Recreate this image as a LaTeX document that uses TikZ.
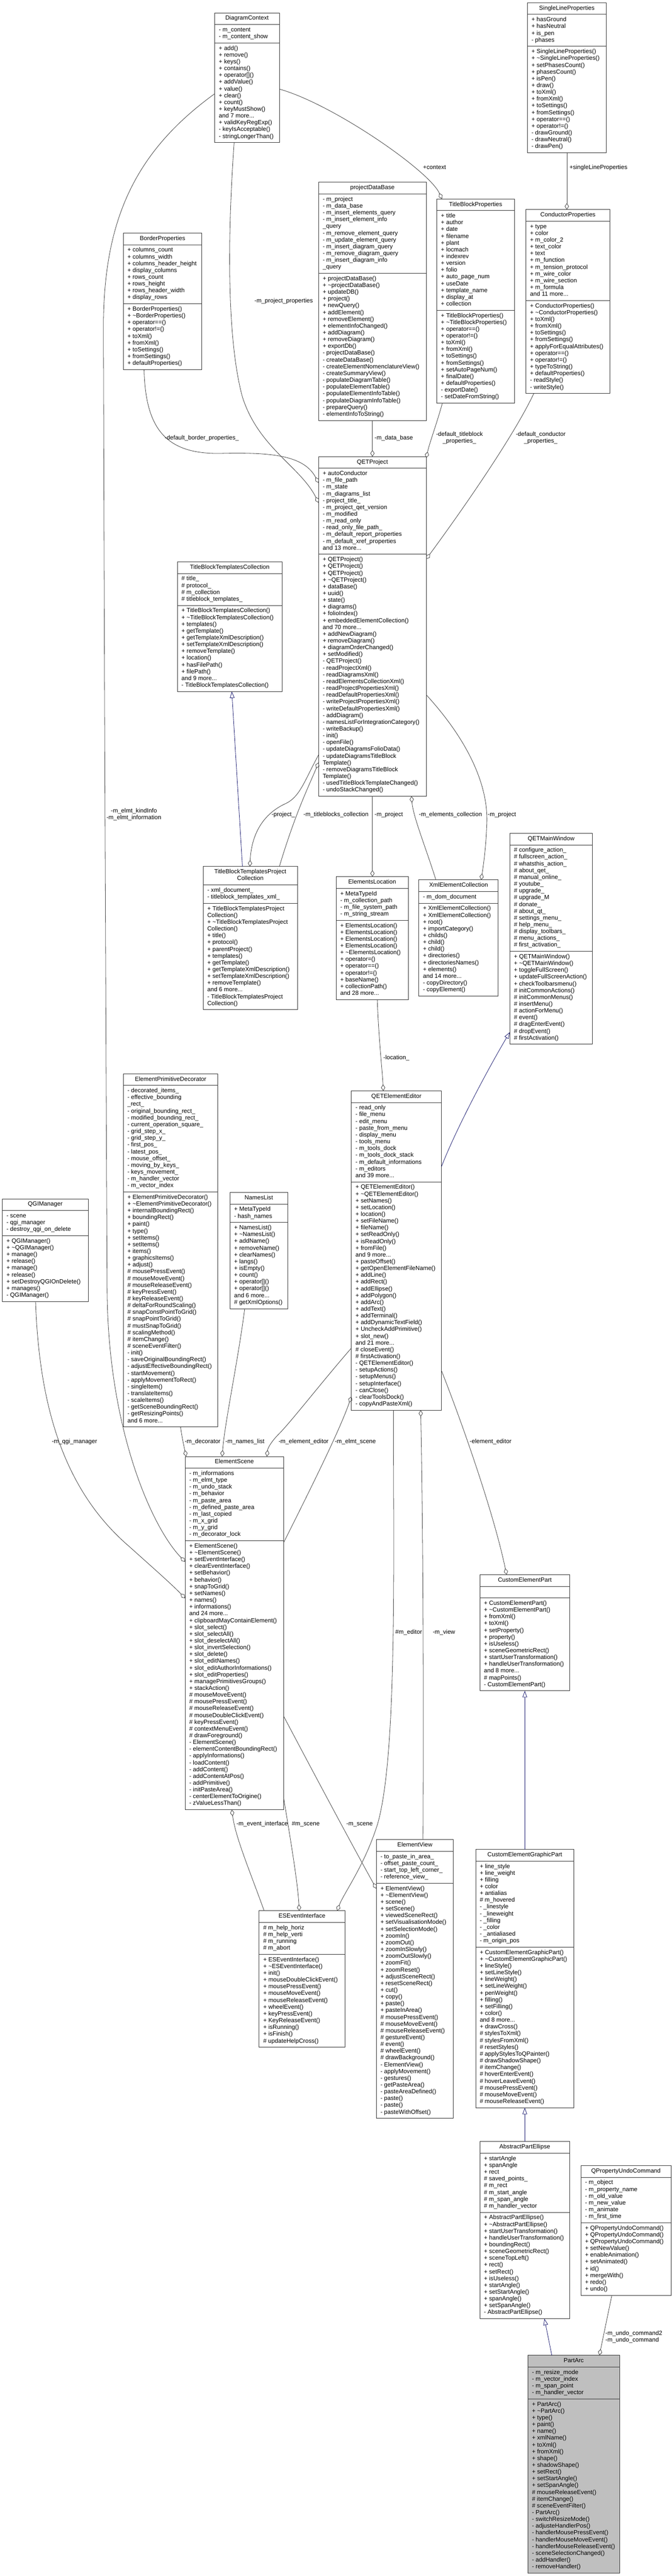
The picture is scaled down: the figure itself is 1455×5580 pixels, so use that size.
\documentclass[tikz,border=0pt]{standalone}
\usepackage{fontspec}
\newfontfamily\lsans{Liberation Sans}
\usetikzlibrary{arrows.meta,calc}
\definecolor{mblue}{HTML}{191970}
\definecolor{egray}{HTML}{404040}
\definecolor{pfill}{HTML}{BFBFBF}
\newcommand\cfont{\lsans\fontsize{13}{14.67}\selectfont\lineskiplimit=-100pt\relax}
\newcommand\st{\rule{0pt}{11.8pt}}
\newcommand\classbox[8]{%
  \def\cbid{#1}\def\cbx{#2}\def\cby{#3}\def\cbw{#4}%
  \def\cbnt{#5}\def\cbna{#6}\def\cbnm{#7}\def\cbfill{#8}%
  \classboxB}
\newcommand\classboxB[3]{%
  \pgfmathsetmacro\cbh{(\cbnt+\cbna+\cbnm)*14.67+31.5}%
  \pgfmathsetmacro\cbya{\cby+\cbnt*14.67+10.5}%
  \pgfmathsetmacro\cbym{\cbya+\cbna*14.67+10.5}%
  \pgfmathsetmacro\cbxc{\cbx+\cbw/2}%
  \pgfmathsetmacro\cbxt{\cbx+9}%
  \pgfmathsetmacro\cbyt{\cby+3.7}%
  \pgfmathsetmacro\cbyat{\cbya+3.7}%
  \pgfmathsetmacro\cbymt{\cbym+3.7}%
  \node[cbox, fill=\cbfill, minimum width=\cbw pt, minimum height=\cbh pt] (\cbid) at (\cbx,\cby) {};
  \draw[cline] (\cbx,\cbya) -- ++(\cbw,0);
  \draw[cline] (\cbx,\cbym) -- ++(\cbw,0);
  \node[ctitle] (\cbid-t) at (\cbxc,\cbyt) {\st #1};
  \node[csect] (\cbid-a) at (\cbxt,\cbyat) {\st #2};
  \node[csect] (\cbid-m) at (\cbxt,\cbymt) {\st #3};
}
\begin{document}
\begin{tikzpicture}[x=1pt,y=-1pt,
  cbox/.style={draw=black!80, line width=1pt, anchor=north west, inner sep=0pt, outer sep=0pt},
  cline/.style={draw=black!80, line width=1pt},
  csect/.style={anchor=north west, inner sep=0pt, outer sep=0pt, align=left, font=\cfont},
  ctitle/.style={anchor=north, inner sep=0pt, outer sep=0pt, align=center, font=\cfont},
  agg/.style={draw=egray, line width=0.9pt, -{Diamond[open, length=14pt, width=9pt]}},
  inh/.style={draw=mblue, line width=0.9pt, -{Triangle[open, length=14pt, width=10pt]}},
  elab/.style={font=\cfont, inner sep=0pt, text height=9.5pt, text depth=2.7pt},
  elabm/.style={font=\cfont, inner sep=0pt}]
\useasboundingbox (0,0) rectangle (1455,5580);
\fill[white] (0,0) rectangle (1455,5580);

% ---------------- classes ----------------
\classbox{DC}{465}{28}{140}{1}{2}{14}{white}
 {DiagramContext}
 {- m\_content\\- m\_content\_show}
 {+ add()\\+ remove()\\+ keys()\\+ contains()\\+ operator[]()\\+ addValue()\\+ value()\\+ clear()\\+ count()\\+ keyMustShow()\\and 7 more...\\+ validKeyRegExp()\\- keyIsAcceptable()\\- stringLongerThan()}

\classbox{SLP}{1142}{6}{171}{1}{4}{15}{white}
 {SingleLineProperties}
 {+ hasGround\\+ hasNeutral\\+ is\_pen\\- phases}
 {+ SingleLineProperties()\\+ \textasciitilde SingleLineProperties()\\+ setPhasesCount()\\+ phasesCount()\\+ isPen()\\+ draw()\\+ toXml()\\+ fromXml()\\+ toSettings()\\+ fromSettings()\\+ operator==()\\+ operator!=()\\- drawGround()\\- drawNeutral()\\- drawPen()}

\classbox{PDB}{690}{395}{233}{1}{11}{21}{white}
 {projectDataBase}
 {- m\_project\\- m\_data\_base\\- m\_insert\_elements\_query\\- m\_insert\_element\_info\\\_query\\- m\_remove\_element\_query\\- m\_update\_element\_query\\- m\_insert\_diagram\_query\\- m\_remove\_diagram\_query\\- m\_insert\_diagram\_info\\\_query}
 {+ projectDataBase()\\+ \textasciitilde projectDataBase()\\+ updateDB()\\+ project()\\+ newQuery()\\+ addElement()\\+ removeElement()\\+ elementInfoChanged()\\+ addDiagram()\\+ removeDiagram()\\+ exportDb()\\- projectDataBase()\\- createDataBase()\\- createElementNomenclatureView()\\- createSummaryView()\\- populateDiagramTable()\\- populateElementTable()\\- populateElementInfoTable()\\- populateDiagramInfoTable()\\- prepareQuery()\\- elementInfoToString()}

\classbox{TBP}{946}{431}{168}{1}{14}{13}{white}
 {TitleBlockProperties}
 {+ title\\+ author\\+ date\\+ filename\\+ plant\\+ locmach\\+ indexrev\\+ version\\+ folio\\+ auto\_page\_num\\+ useDate\\+ template\_name\\+ display\_at\\+ collection}
 {+ TitleBlockProperties()\\+ \textasciitilde TitleBlockProperties()\\+ operator==()\\+ operator!=()\\+ toXml()\\+ fromXml()\\+ toSettings()\\+ fromSettings()\\+ setAutoPageNum()\\+ finalDate()\\+ defaultProperties()\\- exportDate()\\- setDateFromString()}

\classbox{CP}{1139}{454}{182}{1}{11}{13}{white}
 {ConductorProperties}
 {+ type\\+ color\\+ m\_color\_2\\+ text\_color\\+ text\\+ m\_function\\+ m\_tension\_protocol\\+ m\_wire\_color\\+ m\_wire\_section\\+ m\_formula\\and 11 more...}
 {+ ConductorProperties()\\+ \textasciitilde ConductorProperties()\\+ toXml()\\+ fromXml()\\+ toSettings()\\+ fromSettings()\\+ applyForEqualAttributes()\\+ operator==()\\+ operator!=()\\+ typeToString()\\+ defaultProperties()\\- readStyle()\\- writeStyle()}

\classbox{BP}{267}{505}{170}{1}{8}{9}{white}
 {BorderProperties}
 {+ columns\_count\\+ columns\_width\\+ columns\_header\_height\\+ display\_columns\\+ rows\_count\\+ rows\_height\\+ rows\_header\_width\\+ display\_rows}
 {+ BorderProperties()\\+ \textasciitilde BorderProperties()\\+ operator==()\\+ operator!=()\\+ toXml()\\+ fromXml()\\+ toSettings()\\+ fromSettings()\\+ defaultProperties()}

\classbox{QP}{690}{989}{233}{1}{12}{35}{white}
 {QETProject}
 {+ autoConductor\\- m\_file\_path\\- m\_state\\- m\_diagrams\_list\\- project\_title\_\\- m\_project\_qet\_version\\- m\_modified\\- m\_read\_only\\- read\_only\_file\_path\_\\- m\_default\_report\_properties\\- m\_default\_xref\_properties\\and 13 more...}
 {+ QETProject()\\+ QETProject()\\+ QETProject()\\+ \textasciitilde QETProject()\\+ dataBase()\\+ uuid()\\+ state()\\+ diagrams()\\+ folioIndex()\\+ embeddedElementCollection()\\and 70 more...\\+ addNewDiagram()\\+ removeDiagram()\\+ diagramOrderChanged()\\+ setModified()\\- QETProject()\\- readProjectXml()\\- readDiagramsXml()\\- readElementsCollectionXml()\\- readProjectPropertiesXml()\\- readDefaultPropertiesXml()\\- writeProjectPropertiesXml()\\- writeDefaultPropertiesXml()\\- addDiagram()\\- namesListForIntegrationCategory()\\- writeBackup()\\- init()\\- openFile()\\- updateDiagramsFolioData()\\- updateDiagramsTitleBlock\\Template()\\- removeDiagramsTitleBlock\\Template()\\- usedTitleBlockTemplateChanged()\\- undoStackChanged()}

\classbox{TBTC}{384}{1217}{227}{1}{4}{12}{white}
 {TitleBlockTemplatesCollection}
 {\# title\_\\\# protocol\_\\\# m\_collection\\\# titleblock\_templates\_}
 {+ TitleBlockTemplatesCollection()\\+ \textasciitilde TitleBlockTemplatesCollection()\\+ templates()\\+ getTemplate()\\+ getTemplateXmlDescription()\\+ setTemplateXmlDescription()\\+ removeTemplate()\\+ location()\\+ hasFilePath()\\+ filePath()\\and 9 more...\\- TitleBlockTemplatesCollection()}

\classbox{TBTPC}{440}{1877}{204}{2}{2}{15}{white}
 {TitleBlockTemplatesProject\\Collection}
 {- xml\_document\_\\- titleblock\_templates\_xml\_}
 {+ TitleBlockTemplatesProject\\Collection()\\+ \textasciitilde TitleBlockTemplatesProject\\Collection()\\+ title()\\+ protocol()\\+ parentProject()\\+ templates()\\+ getTemplate()\\+ getTemplateXmlDescription()\\+ setTemplateXmlDescription()\\+ removeTemplate()\\and 6 more...\\- TitleBlockTemplatesProject\\Collection()}

\classbox{EL}{728}{1899}{156}{1}{4}{11}{white}
 {ElementsLocation}
 {+ MetaTypeId\\- m\_collection\_path\\- m\_file\_system\_path\\- m\_string\_stream}
 {+ ElementsLocation()\\+ ElementsLocation()\\+ ElementsLocation()\\+ ElementsLocation()\\+ \textasciitilde ElementsLocation()\\+ operator=()\\+ operator==()\\+ operator!=()\\+ baseName()\\+ collectionPath()\\and 28 more...}

\classbox{XEC}{907}{1906}{172}{1}{1}{13}{white}
 {XmlElementCollection}
 {- m\_dom\_document}
 {+ XmlElementCollection()\\+ XmlElementCollection()\\+ root()\\+ importCategory()\\+ childs()\\+ child()\\+ child()\\+ directories()\\+ directoriesNames()\\+ elements()\\and 14 more...\\- copyDirectory()\\- copyElement()}

\classbox{QMW}{1104}{1805}{179}{1}{15}{13}{white}
 {QETMainWindow}
 {\# configure\_action\_\\\# fullscreen\_action\_\\\# whatsthis\_action\_\\\# about\_qet\_\\\# manual\_online\_\\\# youtube\_\\\# upgrade\_\\\# upgrade\_M\\\# donate\_\\\# about\_qt\_\\\# settings\_menu\_\\\# help\_menu\_\\\# display\_toolbars\_\\\# menu\_actions\_\\\# first\_activation\_}
 {+ QETMainWindow()\\+ \textasciitilde QETMainWindow()\\+ toggleFullScreen()\\+ updateFullScreenAction()\\+ checkToolbarsmenu()\\\# initCommonActions()\\\# initCommonMenus()\\\# insertMenu()\\\# actionForMenu()\\\# event()\\\# dragEnterEvent()\\\# dropEvent()\\\# firstActivation()}

\classbox{EPD}{267}{2326}{205}{1}{15}{34}{white}
 {ElementPrimitiveDecorator}
 {- decorated\_items\_\\- effective\_bounding\\\_rect\_\\- original\_bounding\_rect\_\\- modified\_bounding\_rect\_\\- current\_operation\_square\_\\- grid\_step\_x\_\\- grid\_step\_y\_\\- first\_pos\_\\- latest\_pos\_\\- mouse\_offset\_\\- moving\_by\_keys\_\\- keys\_movement\_\\- m\_handler\_vector\\- m\_vector\_index}
 {+ ElementPrimitiveDecorator()\\+ \textasciitilde ElementPrimitiveDecorator()\\+ internalBoundingRect()\\+ boundingRect()\\+ paint()\\+ type()\\+ setItems()\\+ setItems()\\+ items()\\+ graphicsItems()\\+ adjust()\\\# mousePressEvent()\\\# mouseMoveEvent()\\\# mouseReleaseEvent()\\\# keyPressEvent()\\\# keyReleaseEvent()\\\# deltaForRoundScaling()\\\# snapConstPointToGrid()\\\# snapPointToGrid()\\\# mustSnapToGrid()\\\# scalingMethod()\\\# itemChange()\\\# sceneEventFilter()\\- init()\\- saveOriginalBoundingRect()\\- adjustEffectiveBoundingRect()\\- startMovement()\\- applyMovementToRect()\\- singleItem()\\- translateItems()\\- scaleItems()\\- getSceneBoundingRect()\\- getResizingPoints()\\and 6 more...}

\classbox{QGI}{5}{2597}{186}{1}{3}{9}{white}
 {QGIManager}
 {- scene\\- qgi\_manager\\- destroy\_qgi\_on\_delete}
 {+ QGIManager()\\+ \textasciitilde QGIManager()\\+ manage()\\+ release()\\+ manage()\\+ release()\\+ setDestroyQGIOnDelete()\\+ manages()\\- QGIManager()}

\classbox{NL}{498}{2583}{125}{1}{2}{12}{white}
 {NamesList}
 {+ MetaTypeId\\- hash\_names}
 {+ NamesList()\\+ \textasciitilde NamesList()\\+ addName()\\+ removeName()\\+ clearNames()\\+ langs()\\+ isEmpty()\\+ count()\\+ operator[]()\\+ operator[]()\\and 6 more...\\\# getXmlOptions()}

\classbox{QEE}{761}{2363}{195}{1}{11}{33}{white}
 {QETElementEditor}
 {- read\_only\\- file\_menu\\- edit\_menu\\- paste\_from\_menu\\- display\_menu\\- tools\_menu\\- m\_tools\_dock\\- m\_tools\_dock\_stack\\- m\_default\_informations\\- m\_editors\\and 39 more...}
 {+ QETElementEditor()\\+ \textasciitilde QETElementEditor()\\+ setNames()\\+ setLocation()\\+ location()\\+ setFileName()\\+ fileName()\\+ setReadOnly()\\+ isReadOnly()\\+ fromFile()\\and 9 more...\\+ pasteOffset()\\+ getOpenElementFileName()\\+ addLine()\\+ addRect()\\+ addEllipse()\\+ addPolygon()\\+ addArc()\\+ addText()\\+ addTerminal()\\+ addDynamicTextField()\\+ UncheckAddPrimitive()\\+ slot\_new()\\and 21 more...\\\# closeEvent()\\\# firstActivation()\\- QETElementEditor()\\- setupActions()\\- setupMenus()\\- setupInterface()\\- canClose()\\- clearToolsDock()\\- copyAndPasteXml()}

\classbox{ES}{401}{3155}{213}{1}{10}{39}{white}
 {ElementScene}
 {- m\_informations\\- m\_elmt\_type\\- m\_undo\_stack\\- m\_behavior\\- m\_paste\_area\\- m\_defined\_paste\_area\\- m\_last\_copied\\- m\_x\_grid\\- m\_y\_grid\\- m\_decorator\_lock}
 {+ ElementScene()\\+ \textasciitilde ElementScene()\\+ setEventInterface()\\+ clearEventInterface()\\+ setBehavior()\\+ behavior()\\+ snapToGrid()\\+ setNames()\\+ names()\\+ informations()\\and 24 more...\\+ clipboardMayContainElement()\\+ slot\_select()\\+ slot\_selectAll()\\+ slot\_deselectAll()\\+ slot\_invertSelection()\\+ slot\_delete()\\+ slot\_editNames()\\+ slot\_editAuthorInformations()\\+ slot\_editProperties()\\+ managePrimitivesGroups()\\+ stackAction()\\\# mouseMoveEvent()\\\# mousePressEvent()\\\# mouseReleaseEvent()\\\# mouseDoubleClickEvent()\\\# keyPressEvent()\\\# contextMenuEvent()\\\# drawForeground()\\- ElementScene()\\- elementContentBoundingRect()\\- applyInformations()\\- loadContent()\\- addContent()\\- addContentAtPos()\\- addPrimitive()\\- initPasteArea()\\- centerElementToOrigine()\\- zValueLessThan()}

\classbox{CEP}{1039}{3411}{195}{1}{1}{13}{white}
 {CustomElementPart}
 {}
 {+ CustomElementPart()\\+ \textasciitilde CustomElementPart()\\+ fromXml()\\+ toXml()\\+ setProperty()\\+ property()\\+ isUseless()\\+ sceneGeometricRect()\\+ startUserTransformation()\\+ handleUserTransformation()\\and 8 more...\\\# mapPoints()\\- CustomElementPart()}

\classbox{EV}{815}{3985}{167}{1}{4}{34}{white}
 {ElementView}
 {- to\_paste\_in\_area\_\\- offset\_paste\_count\_\\- start\_top\_left\_corner\_\\- reference\_view\_}
 {+ ElementView()\\+ \textasciitilde ElementView()\\+ scene()\\+ setScene()\\+ viewedSceneRect()\\+ setVisualisationMode()\\+ setSelectionMode()\\+ zoomIn()\\+ zoomOut()\\+ zoomInSlowly()\\+ zoomOutSlowly()\\+ zoomFit()\\+ zoomReset()\\+ adjustSceneRect()\\+ resetSceneRect()\\+ cut()\\+ copy()\\+ paste()\\+ pasteInArea()\\\# mousePressEvent()\\\# mouseMoveEvent()\\\# mouseReleaseEvent()\\\# gestureEvent()\\\# event()\\\# wheelEvent()\\\# drawBackground()\\- ElementView()\\- applyMovement()\\- gestures()\\- getPasteArea()\\- pasteAreaDefined()\\- paste()\\- paste()\\- pasteWithOffset()}

\classbox{CEGP}{1030}{4006}{213}{1}{12}{23}{white}
 {CustomElementGraphicPart}
 {+ line\_style\\+ line\_weight\\+ filling\\+ color\\+ antialias\\\# m\_hovered\\- \_linestyle\\- \_lineweight\\- \_filling\\- \_color\\- \_antialiased\\- m\_origin\_pos}
 {+ CustomElementGraphicPart()\\+ \textasciitilde CustomElementGraphicPart()\\+ lineStyle()\\+ setLineStyle()\\+ lineWeight()\\+ setLineWeight()\\+ penWeight()\\+ filling()\\+ setFilling()\\+ color()\\and 8 more...\\+ drawCross()\\\# stylesToXml()\\\# stylesFromXml()\\\# resetStyles()\\\# applyStylesToQPainter()\\\# drawShadowShape()\\\# itemChange()\\\# hoverEnterEvent()\\\# hoverLeaveEvent()\\\# mousePressEvent()\\\# mouseMoveEvent()\\\# mouseReleaseEvent()}

\classbox{ESE}{561}{4139}{186}{1}{4}{13}{white}
 {ESEventInterface}
 {\# m\_help\_horiz\\\# m\_help\_verti\\\# m\_running\\\# m\_abort}
 {+ ESEventInterface()\\+ \textasciitilde ESEventInterface()\\+ init()\\+ mouseDoubleClickEvent()\\+ mousePressEvent()\\+ mouseMoveEvent()\\+ mouseReleaseEvent()\\+ wheelEvent()\\+ keyPressEvent()\\+ KeyReleaseEvent()\\+ isRunning()\\+ isFinish()\\\# updateHelpCross()}

\classbox{APE}{1039}{4639}{195}{1}{8}{15}{white}
 {AbstractPartEllipse}
 {+ startAngle\\+ spanAngle\\+ rect\\\# saved\_points\_\\\# m\_rect\\\# m\_start\_angle\\\# m\_span\_angle\\\# m\_handler\_vector}
 {+ AbstractPartEllipse()\\+ \textasciitilde AbstractPartEllipse()\\+ startUserTransformation()\\+ handleUserTransformation()\\+ boundingRect()\\+ sceneGeometricRect()\\+ sceneTopLeft()\\+ rect()\\+ setRect()\\+ isUseless()\\+ startAngle()\\+ setStartAngle()\\+ spanAngle()\\+ setSpanAngle()\\- AbstractPartEllipse()}

\classbox{QPUC}{1258}{4691}{195}{1}{6}{10}{white}
 {QPropertyUndoCommand}
 {- m\_object\\- m\_property\_name\\- m\_old\_value\\- m\_new\_value\\- m\_animate\\- m\_first\_time}
 {+ QPropertyUndoCommand()\\+ QPropertyUndoCommand()\\+ QPropertyUndoCommand()\\+ setNewValue()\\+ enableAnimation()\\+ setAnimated()\\+ id()\\+ mergeWith()\\+ redo()\\+ undo()}

\classbox{PA}{1143}{5102}{199}{1}{4}{25}{pfill}
 {PartArc}
 {- m\_resize\_mode\\- m\_vector\_index\\- m\_span\_point\\- m\_handler\_vector}
 {+ PartArc()\\+ \textasciitilde PartArc()\\+ type()\\+ paint()\\+ name()\\+ xmlName()\\+ toXml()\\+ fromXml()\\+ shape()\\+ shadowShape()\\+ setRect()\\+ setStartAngle()\\+ setSpanAngle()\\\# mouseReleaseEvent()\\\# itemChange()\\\# sceneEventFilter()\\- PartArc()\\- switchResizeMode()\\- adjusteHandlerPos()\\- handlerMousePressEvent()\\- handlerMouseMoveEvent()\\- handlerMouseReleaseEvent()\\- sceneSelectionChanged()\\- addHandler()\\- removeHandler()}

% ---------------- connectors ----------------
\draw[agg] ($(DC.north east)+(0,165)$) .. controls (720,225) and (930,370) .. ($(TBP.north west)+(11,0)$);
\draw[agg] ($(DC.south west)+(42,0)$) .. controls (490,550) and (495,750) .. (525,860) .. controls (560,970) and (650,1010) .. ($(QP.north west)+(0,100)$);
\draw[agg] ($(BP.south west)+(45,0)$) .. controls (315,930) and (360,985) .. (480,982) .. controls (600,979) and (660,990) .. ($(QP.north west)+(0,57)$);
\draw[agg] (PDB.south) -- (QP.north);
\draw[agg] ($(TBP.south west)+(12,0)$) .. controls (945,920) and (930,960) .. ($(QP.north east)+(0,3)$);
\draw[agg] ($(CP.south west)+(17,0)$) .. controls (1110,950) and (990,1120) .. ($(QP.north east)+(0,222)$);
\draw[agg] (SLP.south) -- (SLP.south |- CP.north);
\draw[agg] ($(QP.north west)+(0,646)$) .. controls (660,1690) and (650,1725) .. (620,1740) .. controls (575,1760) and (545,1800) .. ($(TBTPC.north west)+(101,0)$);
\draw[agg] ($(TBTPC.north west)+(165,0)$) .. controls (640,1760) and (670,1700) .. ($(QP.south west)+(0,-73)$);
\draw[inh] ($(TBTPC.north west)+(85,0)$) -- ($(TBTC.south west)+(118,0)$);
\draw[agg] (QP.south) -- (QP.south |- EL.north);
\draw[agg] ($(XEC.north west)+(37,0)$) .. controls (920,1830) and (895,1770) .. ($(QP.south west)+(201,0)$);
\draw[agg] ($(QP.north east)+(0,516)$) .. controls (1010,1600) and (1060,1700) .. (1054,1790) .. controls (1052,1840) and (1046,1880) .. ($(XEC.north west)+(135,0)$);
\draw[agg] ($(EL.south west)+(89,0)$) .. controls (820,2250) and (828,2320) .. ($(QEE.north west)+(69,0)$);
\draw[inh] ($(QEE.north east)+(0,164)$) .. controls (990,2440) and (1060,2310) .. ($(QMW.south west)+(0,-26)$);
\draw[agg] ($(QGI.south west)+(72,0)$) .. controls (85,3050) and (140,3230) .. (280,3350) .. controls (330,3395) and (370,3430) .. ($(ES.north west)+(0,307)$);
\draw[agg] ($(DC.north west)+(0,175)$) .. controls (290,330) and (222,480) .. (224,720) .. controls (226,1500) and (230,2400) .. (232,2800) .. controls (235,3100) and (330,3310) .. ($(ES.north west)+(0,228)$);
\draw[agg] ($(EPD.south west)+(124,0)$) .. controls (395,3120) and (400,3140) .. ($(ES.north west)+(2,0)$);
\draw[agg] ($(NL.south west)+(32,0)$) .. controls (515,2950) and (487,3080) .. ($(ES.north west)+(80,0)$);
\draw[agg] ($(QEE.north west)+(0,557)$) .. controls (700,2990) and (630,3080) .. (605,3105) .. controls (590,3120) and (580,3135) .. ($(ES.north west)+(177,0)$);
\draw[agg] ($(ES.north east)+(0,187)$) .. controls (670,3230) and (735,3100) .. ($(QEE.north west)+(0,662)$);
\draw[agg] ($(EV.north west)+(101,0)$) .. controls (918,3500) and (914,3200) .. ($(QEE.south west)+(150,0)$);
\draw[agg] ($(QEE.south west)+(91,0)$) .. controls (852,3400) and (860,3800) .. (818,3950) .. controls (790,4040) and (745,4100) .. ($(ESE.north west)+(169,0)$);
\draw[agg] ($(QEE.north east)+(0,606)$) .. controls (1000,3080) and (1070,3280) .. ($(CEP.north west)+(58,0)$);
\draw[agg] ($(ESE.north west)+(11,0)$) .. controls (540,4050) and (510,3980) .. ($(ES.south west)+(101,0)$);
\draw[agg] ($(ES.south east)+(0,-27)$) .. controls (630,3990) and (645,4080) .. ($(ESE.north west)+(87,0)$);
\draw[agg] ($(ES.south east)+(0,-203)$) .. controls (700,3880) and (770,4010) .. ($(EV.north west)+(0,106)$);
\draw[inh] (CEGP.north) -- (CEP.south);
\draw[inh] (APE.north) -- (CEGP.south);
\draw[inh] ($(PA.north west)+(52,0)$) -- ($(APE.south west)+(140,0)$);
\draw[agg] ($(QPUC.south west)+(67,0)$) -- ($(PA.north west)+(155,0)$);

% ---------------- connector labels ----------------
\node[elab, anchor=west] (l1) at (916,363) {+context};
\node[elab, anchor=west] (l2) at (551,652) {-m\_project\_properties};
\node[elab] (l3) at (437,949) {-default\_border\_properties\_};
\node[elab, anchor=west] (l4) at (811,949) {-m\_data\_base};
\node[elabm, align=center] (l5) at (995,949) {-default\_titleblock\\\_properties\_};
\node[elabm, align=center] (l6) at (1171,949) {-default\_conductor\\\_properties\_};
\node[elab, anchor=west] (l7) at (1233,363) {+singleLineProperties};
\node[elab, anchor=west] (l8) at (588,1765) {-project\_};
\node[elab, anchor=west] (l9) at (657,1765) {-m\_titleblocks\_collection};
\node[elab, anchor=west] (l10) at (811,1765) {-m\_project};
\node[elab, anchor=west] (l11) at (907,1765) {-m\_elements\_collection};
\node[elab, anchor=west] (l12) at (1056,1765) {-m\_project};
\node[elabm, align=center] (l13) at (290,1764) {-m\_elmt\_kindInfo\\-m\_elmt\_information};
\node[elab, anchor=west] (l14) at (830,2292) {-location\_};
\node[elab, anchor=west] (l15) at (112,3123) {-m\_qgi\_manager};
\node[elab, anchor=west] (l16) at (400,3123) {-m\_decorator};
\node[elab, anchor=west] (l17) at (488,3123) {-m\_names\_list};
\node[elab, anchor=west] (l18) at (603,3123) {-m\_element\_editor};
\node[elab, anchor=west] (l19) at (725,3123) {-m\_elmt\_scene};
\node[elab, anchor=west] (l20) at (1017,3123) {-element\_editor};
\node[elab, anchor=west] (l21) at (856,3536) {\#m\_editor};
\node[elab, anchor=west] (l22) at (937,3536) {-m\_view};
\node[elab, anchor=west] (l23) at (512,3951) {-m\_event\_interface};
\node[elab, anchor=west] (l24) at (632,3951) {\#m\_scene};
\node[elab, anchor=west] (l25) at (750,3951) {-m\_scene};
\node[elabm, align=left, anchor=west] (l26) at (1311,5062) {-m\_undo\_command2\\-m\_undo\_command};
\end{tikzpicture}
\end{document}
